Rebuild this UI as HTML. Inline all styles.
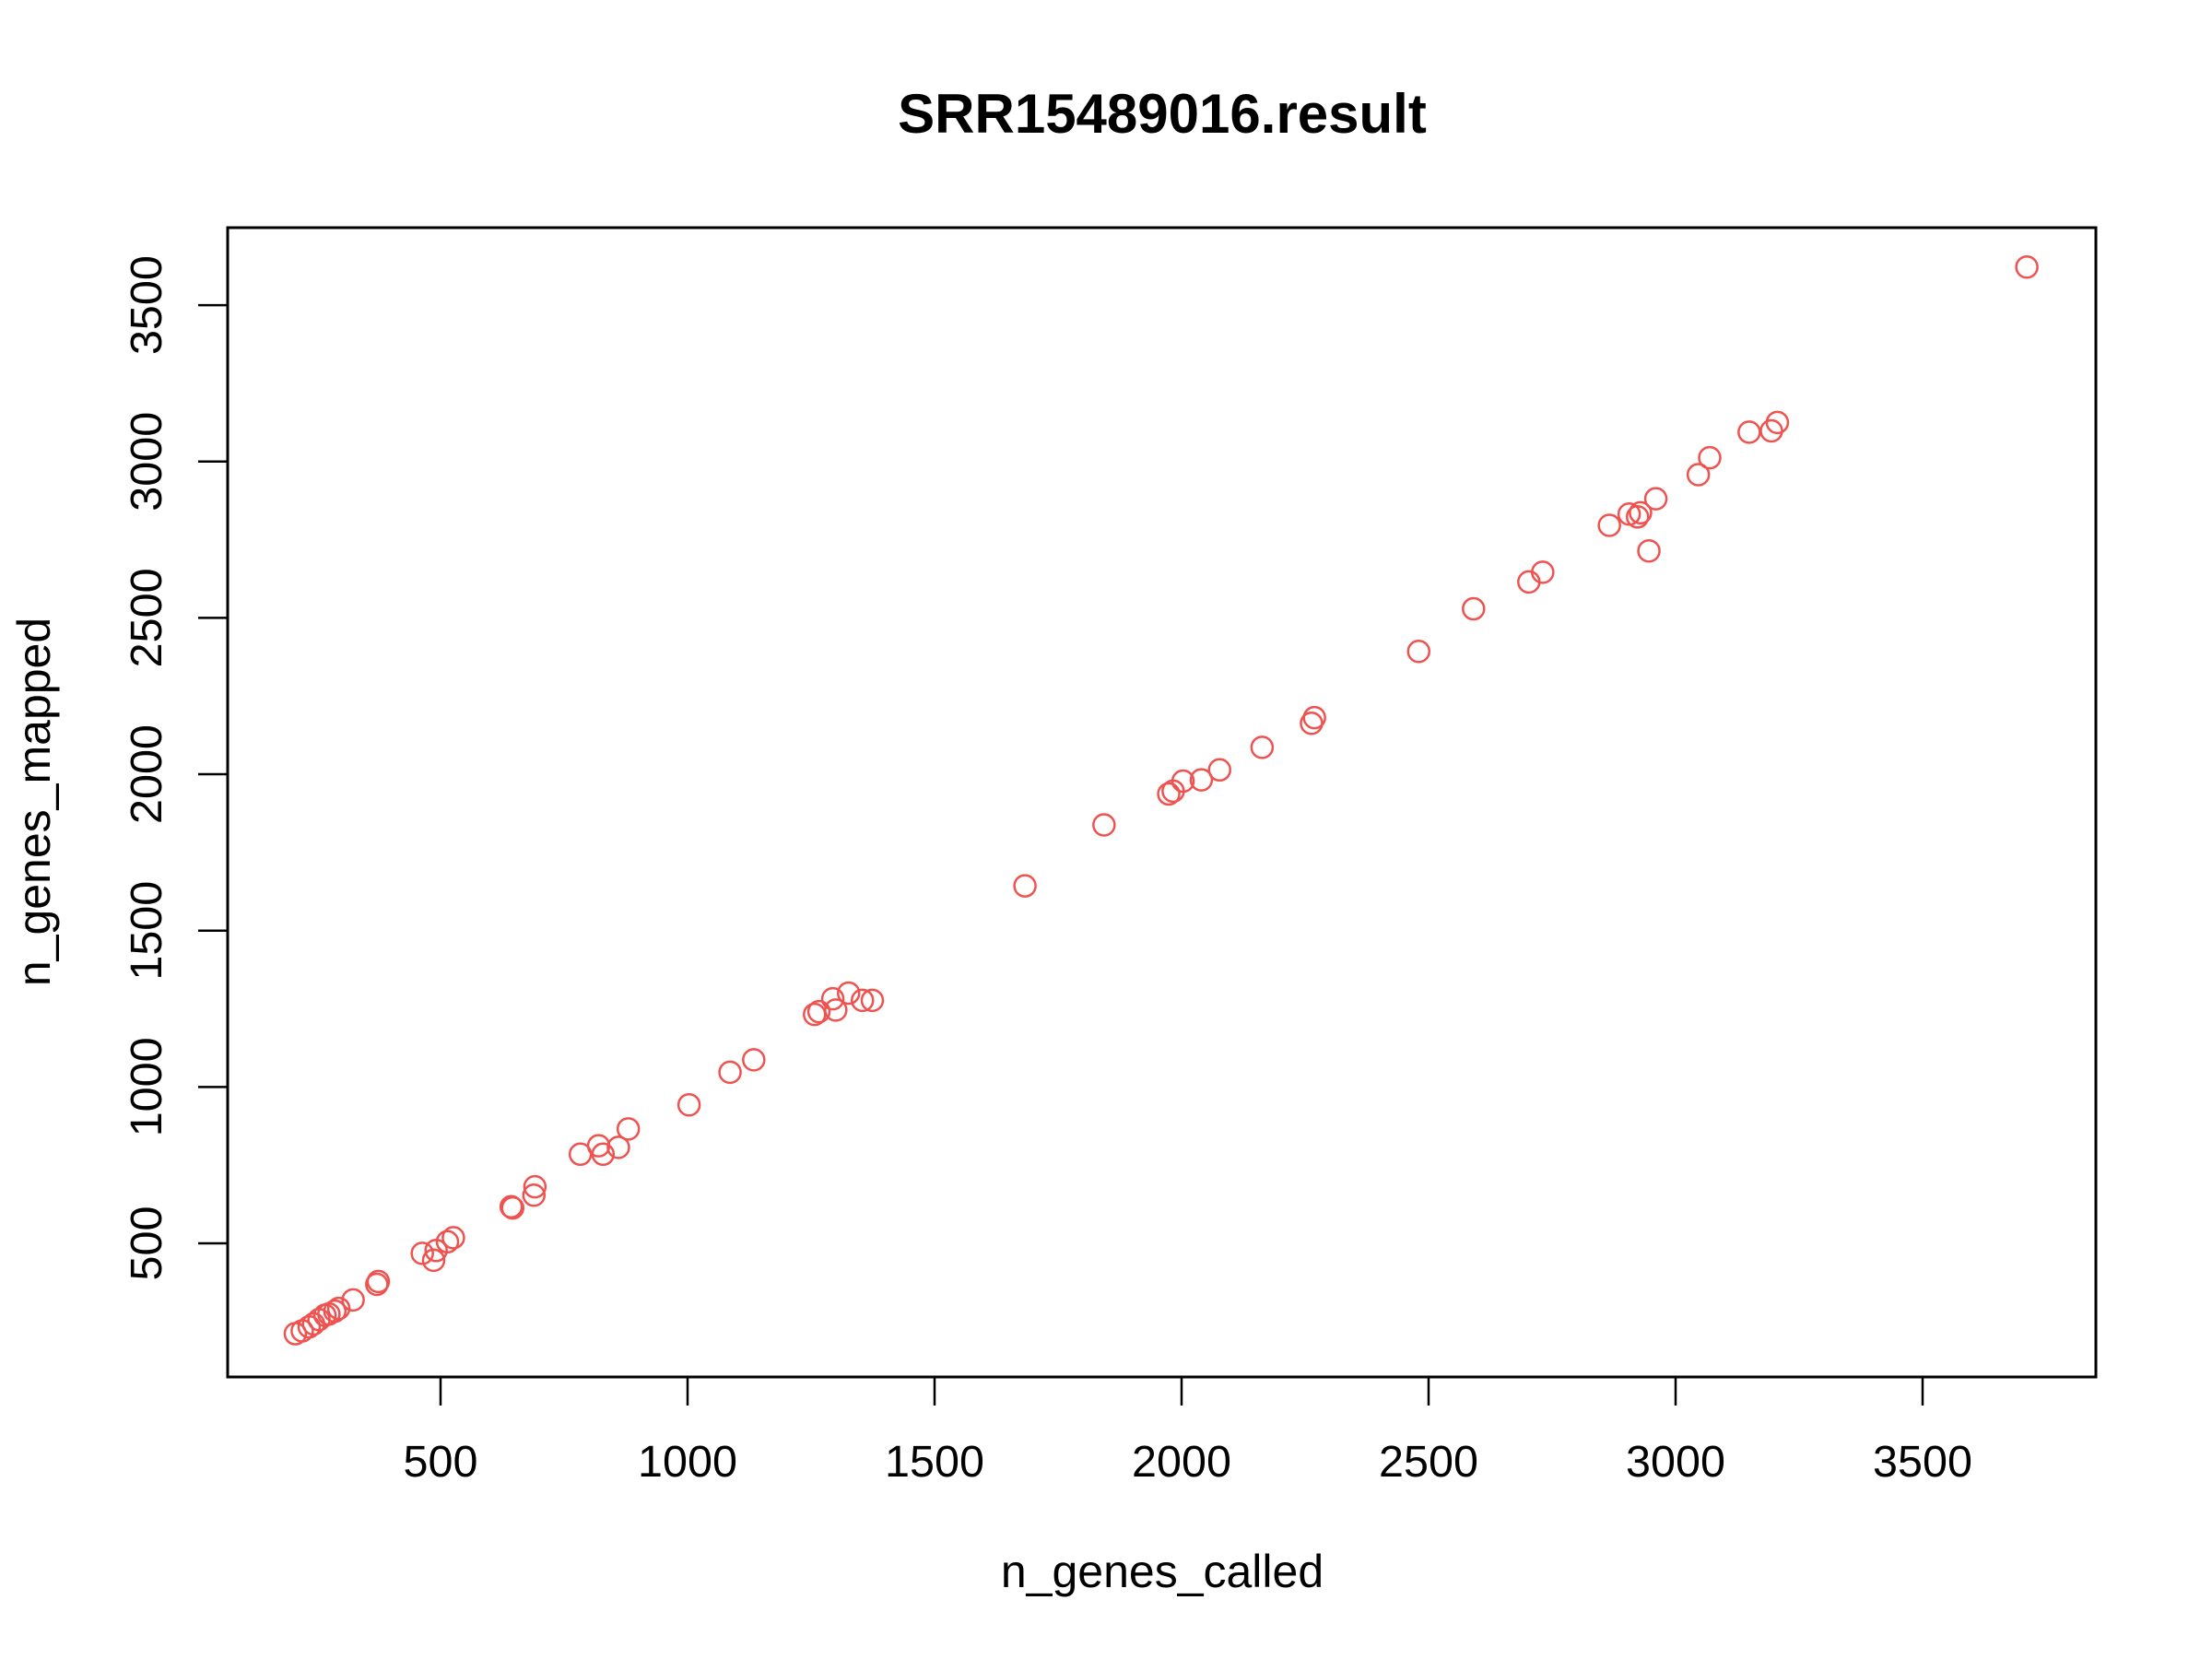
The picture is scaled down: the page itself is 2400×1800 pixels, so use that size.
<!DOCTYPE html>
<html><head><meta charset="utf-8"><style>
html,body{margin:0;padding:0;background:#fff;}
svg{display:block;font-family:"Liberation Sans",Arial,sans-serif;}
</style></head><body>
<svg id="chart" width="2400" height="1800" viewBox="0 0 2400 1800" xmlns="http://www.w3.org/2000/svg">
<rect x="0" y="0" width="2400" height="1800" fill="#fff"/>
<text x="1261" y="144" text-anchor="middle" font-size="60" font-weight="bold">SRR15489016.result</text>
<text x="1261" y="1722" text-anchor="middle" font-size="50">n_genes_called</text>
<text transform="translate(54,870) rotate(-90)" text-anchor="middle" font-size="50">n_genes_mapped</text>
<g id="points"></g>
<g id="axes"></g>
<rect x="247" y="247" width="2027" height="1247" fill="none" stroke="#000" stroke-width="3"/>
</svg>
<script>
const xCalled = [3711,3206,3194,3149,3069,3046,2960,2946,2929,2923,2906,2866,2731,2703,2591,2480,2269,2263,2163,2077,2040,2003,1983,1974,1843,1683,1374,1354,1326,1300,1294,1266,1257,1134,1086,1003,880,860,829,820,783,691,689,646,643,526,514,491,486,463,374,371,323,294,286,274,266,254,243,234,220,206];
const yMapped = [3622,3125,3098,3094,3012,2958,2881,2714,2836,2823,2832,2796,2646,2615,2529,2393,2181,2163,2086,2014,1982,1978,1946,1937,1838,1643,1277,1277,1300,1246,1282,1241,1232,1087,1047,943,866,807,785,812,785,681,654,613,617,518,505,477,446,468,378,369,319,292,283,274,270,256,242,233,220,211];
const xTicks = [500,1000,1500,2000,2500,3000,3500];
const yTicks = [500,1000,1500,2000,2500,3000,3500];

function xs(v){ return 478 + (v-500)*0.536; }
function ys(v){ return 1349 - (v-500)*0.3393; }
const NS='http://www.w3.org/2000/svg';
const pts=document.getElementById('points');
for(let i=0;i<xCalled.length;i++){
  const c=document.createElementNS(NS,'circle');
  c.setAttribute('cx',xs(xCalled[i]));
  c.setAttribute('cy',ys(yMapped[i]));
  c.setAttribute('r',11.5);
  c.setAttribute('fill','none');
  c.setAttribute('stroke','#ef5350');
  c.setAttribute('stroke-width',2.5);
  
  
  pts.appendChild(c);
}
const ax=document.getElementById('axes');
xTicks.forEach(t=>{
  const l=document.createElementNS(NS,'line');
  l.setAttribute('x1',xs(t));l.setAttribute('x2',xs(t));
  l.setAttribute('y1',1494);l.setAttribute('y2',1525);
  l.setAttribute('stroke','#000');l.setAttribute('stroke-width',2.5);
  
  
  ax.appendChild(l);
  const tx=document.createElementNS(NS,'text');
  tx.setAttribute('x',xs(t));tx.setAttribute('y',1602);
  tx.setAttribute('text-anchor','middle');tx.setAttribute('font-size',48.5);
  tx.textContent=t;
  
  
  ax.appendChild(tx);
});
yTicks.forEach(t=>{
  const l=document.createElementNS(NS,'line');
  l.setAttribute('x1',215);l.setAttribute('x2',247);
  l.setAttribute('y1',ys(t));l.setAttribute('y2',ys(t));
  l.setAttribute('stroke','#000');l.setAttribute('stroke-width',2.5);
  
  
  ax.appendChild(l);
  const tx=document.createElementNS(NS,'text');
  tx.setAttribute('transform','translate(175,'+ys(t)+') rotate(-90)');
  tx.setAttribute('text-anchor','middle');tx.setAttribute('font-size',48.5);
  tx.textContent=t;
  
  
  ax.appendChild(tx);
});
</script>
</body></html>
